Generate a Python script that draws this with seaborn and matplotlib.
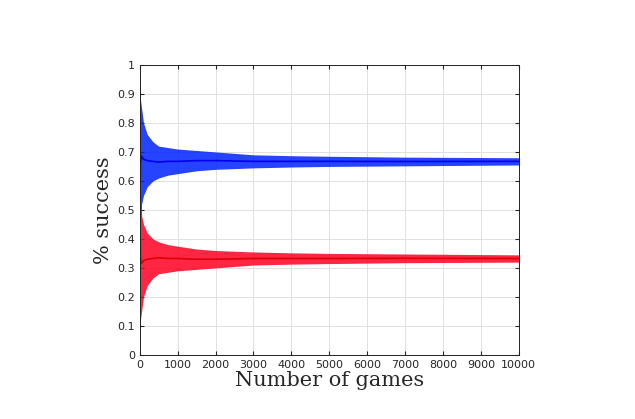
import matplotlib
matplotlib.use("Agg")
import matplotlib.pyplot as plt
import seaborn as sns
import pandas as pd

# Envelope of the simulated success rates
games = [1, 20, 50, 100, 200, 350, 500, 750, 1000, 1500, 2000, 3000, 4000, 5000, 7000, 10000]
switch_hi = [1.0, 0.88, 0.85, 0.80, 0.76, 0.735, 0.72, 0.715, 0.71, 0.705, 0.70, 0.69, 0.687, 0.685, 0.682, 0.68]
switch_lo = [0.0, 0.45, 0.52, 0.55, 0.58, 0.60, 0.61, 0.62, 0.625, 0.635, 0.64, 0.645, 0.648, 0.65, 0.652, 0.655]
stay_hi = [1.0, 0.55, 0.48, 0.45, 0.42, 0.40, 0.39, 0.38, 0.375, 0.365, 0.36, 0.355, 0.352, 0.35, 0.348, 0.345]
stay_lo = [0.0, 0.12, 0.15, 0.20, 0.24, 0.265, 0.28, 0.285, 0.29, 0.295, 0.30, 0.31, 0.313, 0.315, 0.318, 0.32]

df = pd.DataFrame({"games": games,
                   "switch": [(a + b) / 2 for a, b in zip(switch_hi, switch_lo)],
                   "stay": [(a + b) / 2 for a, b in zip(stay_hi, stay_lo)]})

sns.set_style("white")
fig = plt.figure(figsize=(6.35, 4.19), dpi=100)
ax = fig.add_axes([0.22, 0.153, 0.597, 0.692])

ax.fill_between(games, switch_lo, switch_hi, color="#0022ff", alpha=0.85, lw=0)
ax.fill_between(games, stay_lo, stay_hi, color="#ff0022", alpha=0.85, lw=0)
sns.lineplot(data=df, x="games", y="switch", ax=ax, color="#0000ee", lw=1.2)
sns.lineplot(data=df, x="games", y="stay", ax=ax, color="#dd0000", lw=1.2)

ax.set_xlim(0, 10000)
ax.set_ylim(0, 1)
ax.set_xticks(range(0, 10001, 1000))
ax.set_yticks([i / 10 for i in range(11)])
ax.set_yticklabels(["0"] + [f"{i/10:g}" for i in range(1, 10)] + ["1"])
ax.grid(True, color="#e0e0e0", lw=0.7)
ax.tick_params(labelsize=8, direction="in", length=3, left=True, bottom=True, top=True, right=True, labeltop=False, labelright=False)
for s in ax.spines.values():
    s.set_color("#222222"); s.set_linewidth(0.7)
ax.set_xlabel("Number of games", family="DejaVu Serif", fontsize=15, labelpad=1)
ax.set_ylabel("% success", family="DejaVu Serif", fontsize=15, labelpad=3)
fig.savefig("out.png", dpi=100, facecolor="white")
